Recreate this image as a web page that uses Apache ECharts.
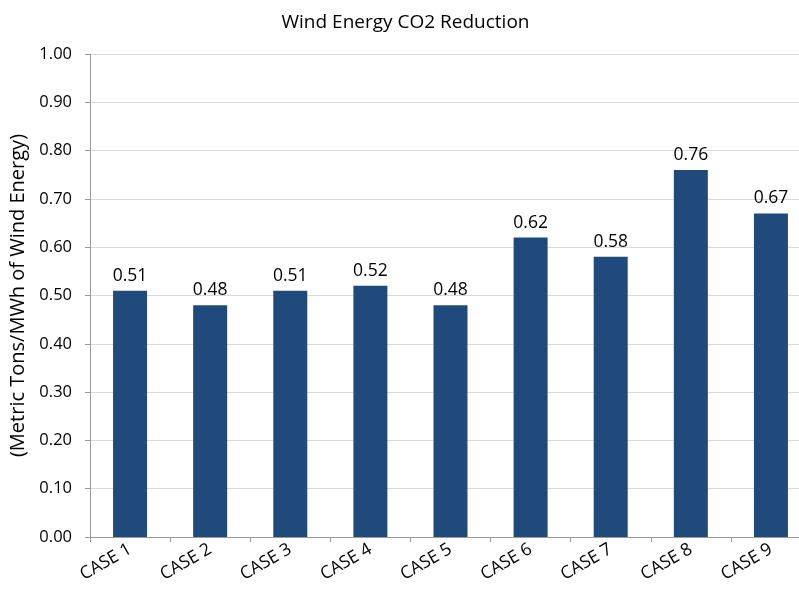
<!DOCTYPE html>
<html>
<head>
<meta charset="utf-8">
<script src="https://cdn.jsdelivr.net/npm/echarts@6/dist/echarts.min.js"></script>
<style>
  html, body { margin: 0; padding: 0; background: #fff; overflow: hidden; width: 799px; height: 593px; }
  /* the drawing surface is a little wider than the window, so the last column is clipped */
  #chart { width: 811px; height: 593px; }
</style>
</head>
<body>
<div id="chart"></div>
<script>
// CO2 reduction per MWh of wind energy, by case
const categories = ['CASE 1', 'CASE 2', 'CASE 3', 'CASE 4', 'CASE 5', 'CASE 6', 'CASE 7', 'CASE 8', 'CASE 9'];
const reduction = [0.51, 0.48, 0.51, 0.52, 0.48, 0.62, 0.58, 0.76, 0.67];

const FONT = '"Open Sans", "Noto Sans", sans-serif';
const chart = echarts.init(document.getElementById('chart'));

chart.setOption({
  animation: false,
  backgroundColor: '#ffffff',
  title: {
    text: 'Wind Energy CO2 Reduction',
    left: 'center',
    top: 8,
    textStyle: { fontFamily: FONT, fontSize: 19, fontWeight: 'normal', color: '#000' }
  },
  grid: { left: 88, top: 54, bottom: 56, right: 0, containLabel: false },
  xAxis: {
    type: 'category',
    data: categories,
    boundaryGap: true,
    axisLine: { lineStyle: { color: '#9a9a9a', width: 1 } },
    axisTick: { show: true, length: 5, alignWithLabel: false, lineStyle: { color: '#9a9a9a' } },
    axisLabel: {
      rotate: 30,
      margin: 11,
      fontFamily: FONT,
      fontSize: 17.5,
      color: '#000'
    }
  },
  yAxis: {
    type: 'value',
    min: 0,
    max: 1,
    interval: 0.1,
    name: '(Metric Tons/MWh of Wind Energy)',
    nameLocation: 'middle',
    nameGap: 62,
    nameTextStyle: { fontFamily: FONT, fontSize: 20, color: '#000' },
    axisLine: { show: true, lineStyle: { color: '#9a9a9a', width: 1 } },
    axisTick: { show: true, length: 5, lineStyle: { color: '#9a9a9a' } },
    axisLabel: {
      formatter: v => v.toFixed(2),
      margin: 18,
      fontFamily: FONT,
      fontSize: 16.5,
      color: '#000'
    },
    splitLine: { lineStyle: { color: '#d9d9d9', width: 1 } }
  },
  series: [{
    type: 'bar',
    data: reduction,
    barWidth: 34,
    itemStyle: { color: '#214a7c' },
    label: {
      show: true,
      position: 'top',
      distance: 6,
      formatter: p => p.value.toFixed(2),
      fontFamily: FONT,
      fontSize: 17.5,
      color: '#000'
    }
  }]
});
</script>
</body>
</html>
